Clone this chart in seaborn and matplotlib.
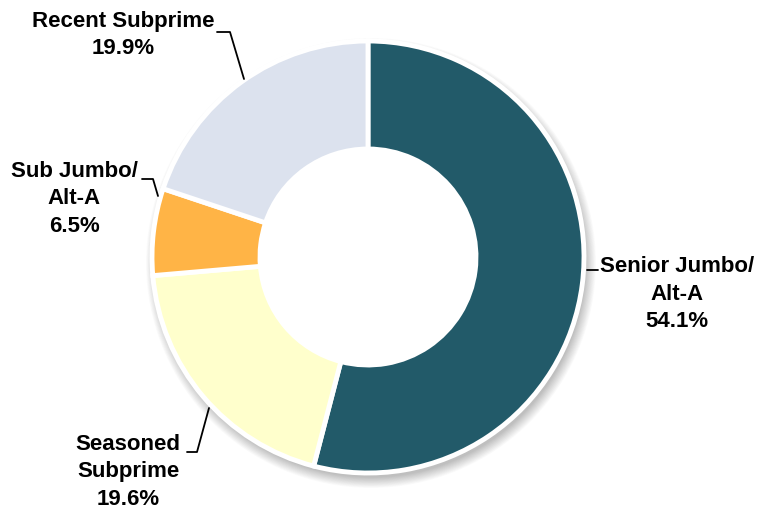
import matplotlib
matplotlib.use("Agg")
import matplotlib.pyplot as plt
import seaborn as sns
from matplotlib.patches import Circle

sns.set_theme(style="white")
plt.rcParams['font.family'] = ['Liberation Sans', 'DejaVu Sans']

categories = ["Senior Jumbo/\nAlt-A", "Seasoned\nSubprime", "Sub Jumbo/\nAlt-A", "Recent Subprime"]
values = [54.1, 19.6, 6.5, 19.9]
pct_labels = ["54.1%", "19.6%", "6.5%", "19.9%"]
colors = ["#225A69", "#FFFFCC", "#FFB446", "#DCE2EE"]

W, H = 759, 517
fig = plt.figure(figsize=(W / 100, H / 100), dpi=100)
ax = fig.add_axes([0, 0, 1, 1])

cx, cy = 368, H - 257
R = 216
width = 108

# soft shadow
for i in range(16):
    ax.add_patch(Circle((cx + 3, cy - 6), R + 9 - i * 0.7, color='black', alpha=0.014, lw=0, zorder=0))

wedges, _ = ax.pie(values, colors=colors, startangle=90, counterclock=False,
                   center=(cx, cy), radius=R, frame=True,
                   wedgeprops=dict(width=width, edgecolor='white', linewidth=3.5))
ax.add_patch(Circle((cx, cy), R - width + 1, color='white', lw=0, zorder=3))
ax.set_xlim(0, W)
ax.set_ylim(0, H)
ax.set_aspect('equal')
ax.axis('off')

fs = 16
txt = dict(fontsize=fs, fontweight='bold', color='black', ha='center', va='center', linespacing=1.38)

def Y(y):
    return H - y

# label positions (text center) and leader lines
labels_pos = [(677, 294), (128, 472), (74, 199), (123, 35)]
leaders = [
    [(587, 270), (598, 270)],
    [(187, 452), (197, 452), (209, 408)],
    [(142, 179), (153, 179), (158, 196)],
    [(217, 32), (230, 32), (244, 79)],
]
for cat, pct, (x, y), ld in zip(categories, pct_labels, labels_pos, leaders):
    ax.text(x, Y(y), cat + "\n" + pct, **txt)
    xs = [p[0] for p in ld]
    ys = [Y(p[1]) for p in ld]
    ax.plot(xs, ys, color='black', lw=1.3, zorder=5)

fig.savefig("out.png", dpi=100)
